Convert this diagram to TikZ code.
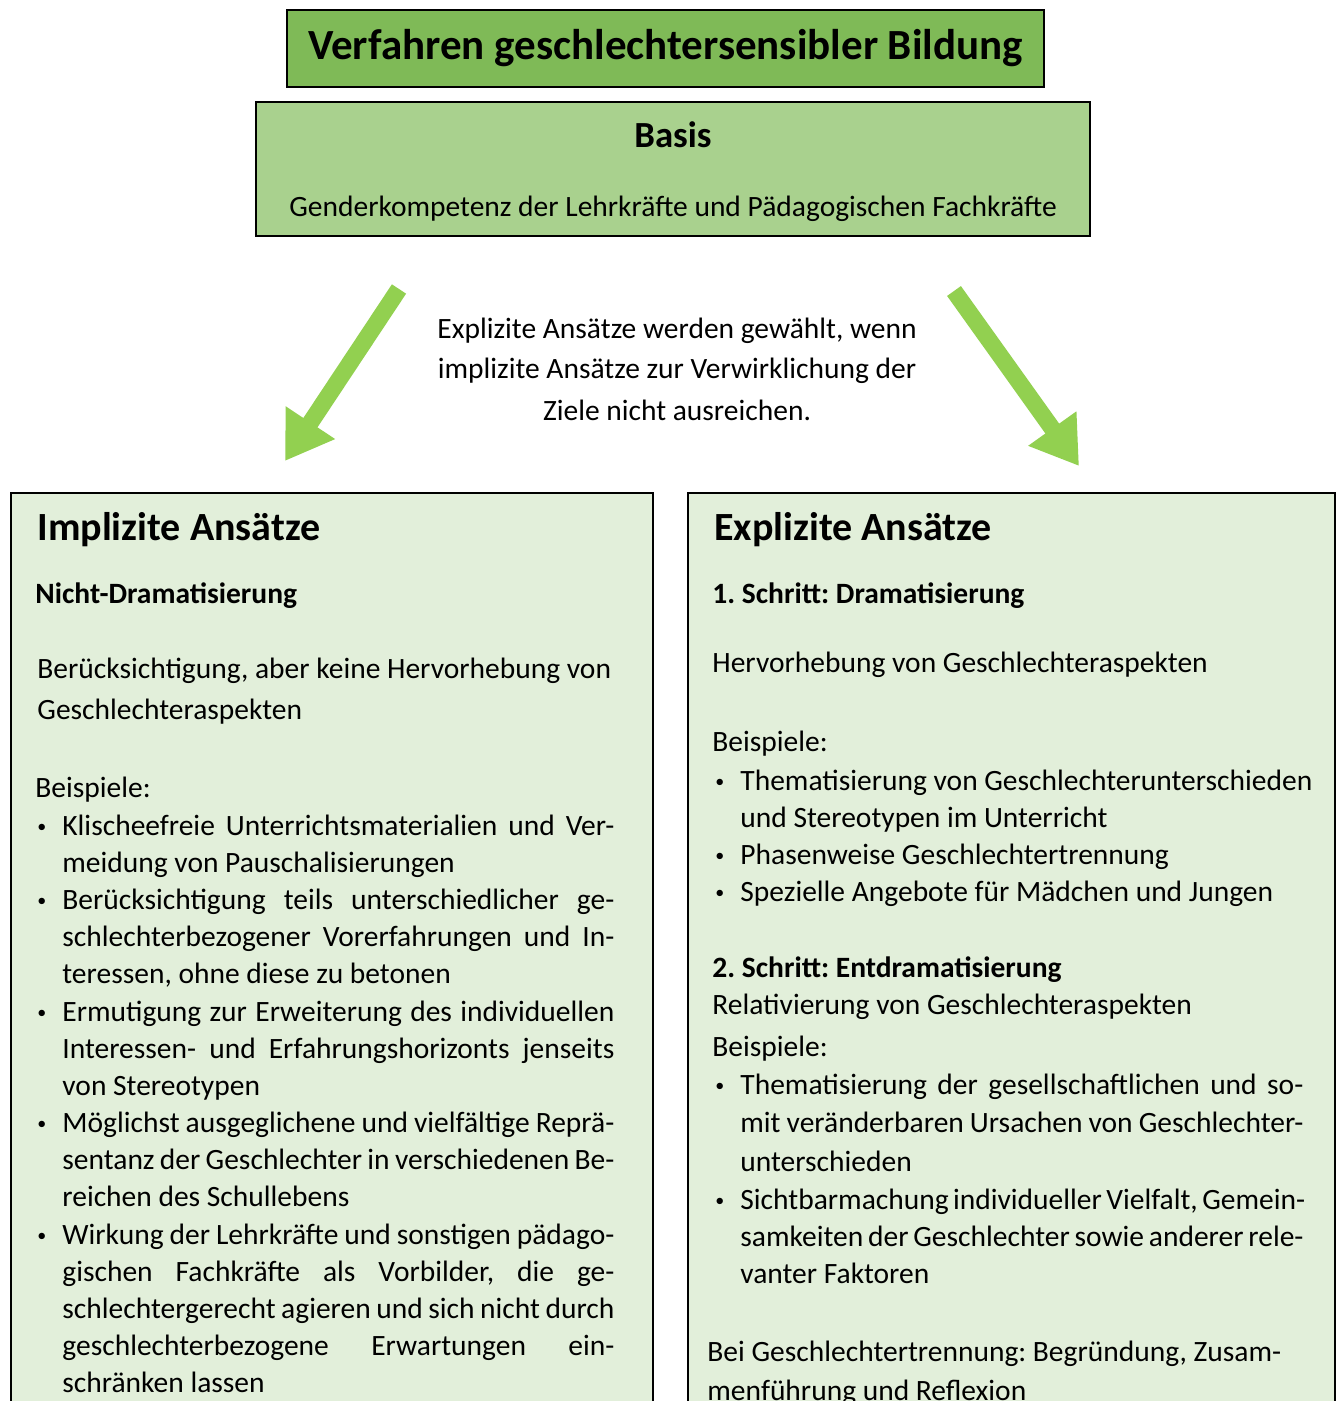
\documentclass[tikz,border=0pt]{standalone}
\usepackage{fontspec}
\setmainfont{Carlito}
\usetikzlibrary{arrows.meta}

\definecolor{titlegreen}{RGB}{127,186,87}
\definecolor{basisgreen}{RGB}{169,209,142}
\definecolor{boxgreen}{RGB}{226,239,218}
\definecolor{arrowgreen}{RGB}{146,208,80}

% justified line of a bullet item
\newcommand{\jl}[1]{{\spaceskip=0pt\xspaceskip=0pt\makebox[276pt][s]{#1}}}
\newcommand{\jr}[1]{{\spaceskip=0pt\xspaceskip=0pt\makebox[281.5pt][s]{#1}}}

\begin{document}
\frenchspacing
\begin{tikzpicture}[x=0.5pt,y=0.5pt,yscale=-1,xscale=1,
  every node/.style={inner sep=0pt,execute at begin node={\frenchspacing\spaceskip=0pt\xspaceskip=0pt}},
  framebox/.style={draw=black,line width=1pt},
  bodytxt/.style={anchor=base west,font=\fontsize{14.75}{18.55}\selectfont},
  itemtxt/.style={anchor=base west,align=left,text width=300pt,font=\fontsize{14.75}{18.55}\selectfont},
  bullet/.style={anchor=base west,font=\fontsize{9}{9}\selectfont},
  headtxt/.style={anchor=base west,font=\fontsize{20}{24}\selectfont\bfseries},
  subtxt/.style={anchor=base west,font=\fontsize{14.75}{18}\selectfont\bfseries},
  bigarrow/.style={arrowgreen,line width=8.5pt,-{Triangle[length=23pt,width=28pt]}}]
\useasboundingbox (0,0) rectangle (1343,1401);
\clip (0,0) rectangle (1343,1401);

%Shape: Rectangle
\node[framebox,fill=titlegreen,minimum width=378.5pt,minimum height=38.5pt,
  font=\fontsize{21.5}{26}\selectfont\bfseries] (title) at (665.5,48.5) {Verfahren geschlechtersensibler Bildung};
%Shape: Rectangle
\node[framebox,fill=basisgreen,minimum width=417pt,minimum height=67pt] (basis) at (673,169) {};
% Text Node
\node[anchor=base,font=\fontsize{18.4}{22}\selectfont\bfseries] (basishead) at (673,148) {Basis};
% Text Node
\node[anchor=base,font=\fontsize{14.75}{18}\selectfont] (basistxt) at (673,217) {Genderkompetenz der Lehrkräfte und Pädagogischen Fachkräfte};

% Text Node
\node[anchor=base,text width=300pt,font=\fontsize{14.75}{20.5}\selectfont] (wenn) at (677,338)
  {\centering Explizite Ansätze werden gewählt, wenn\\implizite Ansätze zur Verwirklichung der\\Ziele nicht ausreichen.\par};

%Shape: Rectangle
\node[framebox,fill=boxgreen,anchor=north west,minimum width=321pt,minimum height=470pt] (impl) at (10,492) {};
%Shape: Rectangle
\node[framebox,fill=boxgreen,anchor=north west,minimum width=323.5pt,minimum height=470pt] (expl) at (687,492) {};

%Straight Lines
\coordinate (lstart) at (399,289);
\coordinate (lend) at (285,461);
\draw[bigarrow] (lstart) -- (lend);
%Straight Lines
\coordinate (rstart) at (954,291);
\coordinate (rend) at (1079,466);
\draw[bigarrow] (rstart) -- (rend);

% Text Node
\node[headtxt] (implhead) at (37,540) {Implizite Ansätze};
% Text Node
\node[subtxt] (nichtdram) at (35,603) {Nicht-Dramatisierung};
% Text Node
\node[itemtxt,font=\fontsize{14.75}{20.5}\selectfont] (beruecks) at (37,678)
  {Berücksichtigung, aber keine Hervorhebung von\\Geschlechteraspekten};
% Text Node
\node[bodytxt] (bspimpl) at (35,797) {Beispiele:};

% Text Node
\node[bullet] (ib1) at (37,832) {\textbullet};
\node[itemtxt] (it1) at (62,835) {\jl{Klischeefreie Unterrichtsmaterialien und Ver-}\\meidung von Pauschalisierungen};
% Text Node
\node[bullet] (ib2) at (37,906) {\textbullet};
\node[itemtxt] (it2) at (62,909) {\jl{Berücksichtigung teils unterschiedlicher ge-}\\\jl{schlechterbezogener Vorerfahrungen und In-}\\teressen, ohne diese zu betonen};
% Text Node
\node[bullet] (ib3) at (37,1018) {\textbullet};
\node[itemtxt] (it3) at (62,1021) {\jl{Ermutigung zur Erweiterung des individuellen}\\\jl{Interessen- und Erfahrungshorizonts jenseits}\\von Stereotypen};
% Text Node
\node[bullet] (ib4) at (37,1129) {\textbullet};
\node[itemtxt] (it4) at (62,1132) {\jl{Möglichst ausgeglichene und vielfältige Reprä-}\\\jl{sentanz der Geschlechter in verschiedenen Be-}\\reichen des Schullebens};
% Text Node
\node[bullet] (ib5) at (37,1241) {\textbullet};
\node[itemtxt] (it5) at (62,1244) {\jl{Wirkung der Lehrkräfte und sonstigen pädago-}\\\jl{gischen Fachkräfte als Vorbilder, die ge-}\\\jl{schlechtergerecht agieren und sich nicht durch}\\\jl{geschlechterbezogene Erwartungen ein-}\\schränken lassen};

% Text Node
\node[headtxt] (explhead) at (714,540) {Explizite Ansätze};
% Text Node
\node[subtxt] (schritt1) at (712,603) {1. Schritt: Dramatisierung};
% Text Node
\node[bodytxt] (hervor) at (712,672) {Hervorhebung von Geschlechteraspekten};
% Text Node
\node[bodytxt] (bspexpl) at (712,751) {Beispiele:};
% Text Node
\node[bullet] (eb1) at (715,787) {\textbullet};
\node[itemtxt] (et1) at (740,790) {Thematisierung von Geschlechterunterschieden\\und Stereotypen im Unterricht};
\node[bullet] (eb2) at (715,861) {\textbullet};
\node[itemtxt] (et2) at (740,864) {Phasenweise Geschlechtertrennung};
\node[bullet] (eb3) at (715,898) {\textbullet};
\node[itemtxt] (et3) at (740,901) {Spezielle Angebote für Mädchen und Jungen};

% Text Node
\node[subtxt] (schritt2) at (712,977) {2. Schritt: Entdramatisierung};
% Text Node
\node[bodytxt] (relativ) at (712,1014) {Relativierung von Geschlechteraspekten};
% Text Node
\node[bodytxt] (bspexpl2) at (712,1056) {Beispiele:};
% Text Node
\node[bullet] (eb4) at (715,1091) {\textbullet};
\node[itemtxt,font=\fontsize{14.75}{19.25}\selectfont] (et4) at (740,1094) {\jr{Thematisierung der gesellschaftlichen und so-}\\\jr{mit veränderbaren Ursachen von Geschlechter-}\\unterschieden};
\node[bullet] (eb5) at (715,1206) {\textbullet};
\node[itemtxt,font=\fontsize{14.75}{18.5}\selectfont] (et5) at (740,1209) {\jr{Sichtbarmachung individueller Vielfalt, Gemein-}\\\jr{samkeiten der Geschlechter sowie anderer rele-}\\vanter Faktoren};

% Text Node
\node[itemtxt,font=\fontsize{14.75}{19.5}\selectfont] (trennung) at (707,1361)
  {Bei Geschlechtertrennung: Begründung, Zusam-\\menführung und Reflexion};

\end{tikzpicture}
\end{document}
